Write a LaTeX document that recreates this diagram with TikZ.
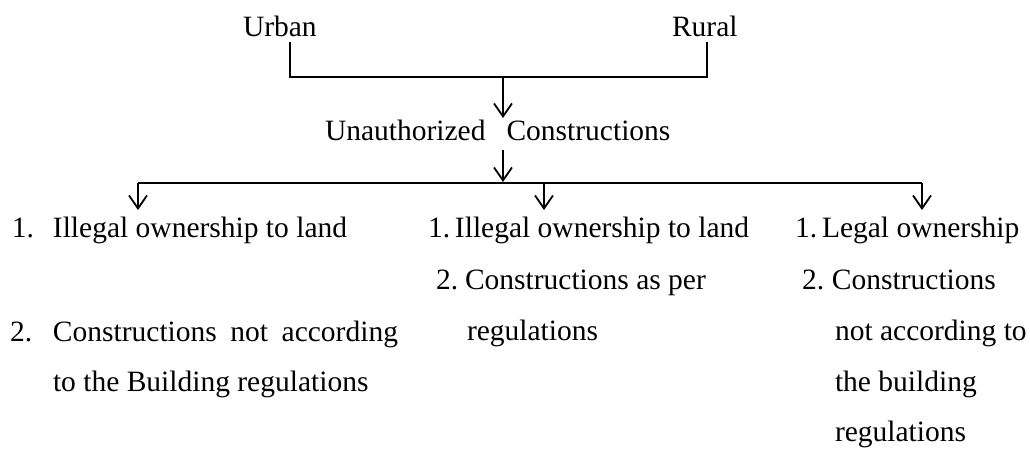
\documentclass[tikz,border=0pt]{standalone}
\usepackage{fontspec}
\setmainfont{Liberation Serif}
\usetikzlibrary{arrows.meta}
\begin{document}
\begin{tikzpicture}[x=1pt,y=-1pt,
  txt/.style={inner sep=0pt,outer sep=0pt,anchor=base west,font=\fontsize{29.5}{35}\selectfont},
  conn/.style={line width=1.8pt,draw=black},
  arr/.style={conn,-{Straight Barb[length=13pt,width=18pt]}}]
\useasboundingbox (0,0) rectangle (1030,452);
% top
\node[txt] (urban) at (243,37) {Urban};
\node[txt] (rural) at (672,37) {Rural};
\coordinate (uEnd) at (290,42);
\coordinate (rEnd) at (707,42);
\coordinate (ju) at (290,77);
\coordinate (jr) at (707,77);
\coordinate (jm) at (503,77);
\draw[conn] (uEnd) -- (ju) -- (jr) -- (rEnd);
\node[txt] (uc) at (325,140) {Unauthorized\hspace{21pt}Constructions};
\coordinate (ucTop) at (503,118);
\coordinate (ucBot) at (503,150);
\draw[arr] (jm) -- (ucTop);
% branch
\coordinate (bl) at (138,183);
\coordinate (bm) at (544,183);
\coordinate (br) at (922,183);
\coordinate (bc) at (503,182);
\draw[arr] (ucBot) -- (bc);
\draw[conn] (bl) -- (br);
\coordinate (tl) at (138,210);
\coordinate (tm) at (544,210);
\coordinate (tr) at (922,210);
\draw[arr] (bl) -- (tl);
\draw[arr] (bm) -- (tm);
\draw[arr] (br) -- (tr);
% left column
\node[txt] (l1) at (12,237) {\makebox[41pt][l]{1.}Illegal ownership to land};
\node[txt] (l2a) at (10,341) {\makebox[43pt][l]{2.}\makebox[345pt][s]{Constructions not according}};
\node[txt] (l2b) at (53,391) {to the Building regulations};
% middle column
\node[txt] (m1) at (428,237) {\makebox[27pt][l]{1.}Illegal ownership to land};
\node[txt] (m2a) at (436,289) {\makebox[29pt][l]{2.}Constructions as per};
\node[txt] (m2b) at (467,340) {regulations};
% right column
\node[txt] (r1) at (795,237) {\makebox[27pt][l]{1.}Legal ownership};
\node[txt] (r2a) at (802,289) {\makebox[30pt][l]{2.}Constructions};
\node[txt] (r2b) at (835,340) {not according to};
\node[txt] (r2c) at (835,391) {the building};
\node[txt] (r2d) at (835,441) {regulations};
\end{tikzpicture}
\end{document}
